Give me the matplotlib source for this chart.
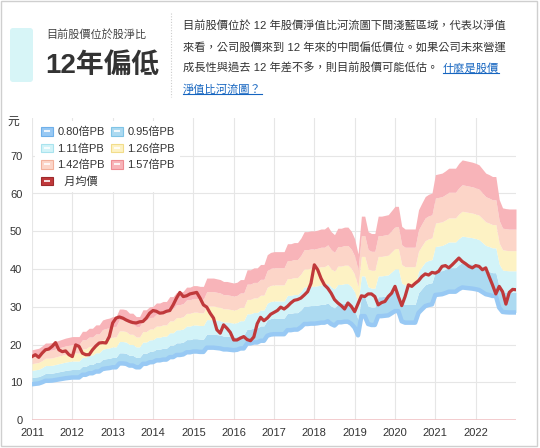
import numpy as np
import matplotlib.pyplot as plt
from matplotlib.patches import Patch, FancyBboxPatch, Rectangle
from matplotlib.lines import Line2D
from matplotlib.legend_handler import HandlerTuple

plt.rcParams['font.family'] = ['Liberation Sans', 'Noto Sans CJK TC', 'DejaVu Sans']

# ─── 資料：2011/01 ~ 2023/01 月資料 ───────────────────────────────────────────
months = 2011 + np.arange(145) / 12

price = [
    16.8, 17.3, 16.6, 17.7, 18.6, 18.8, 19.5, 20.5, 18.6, 18.1, 18.3, 17.3,
    16.8, 19.9, 19.5, 17.7, 17.3, 17.3, 18.6, 19.6, 20.4, 20.5, 20.4, 22.1,
    25.7, 27.0, 27.3, 27.0, 26.5, 26.1, 25.8, 25.7, 26.0, 26.1, 27.0, 28.3,
    29.0, 28.8, 28.3, 28.4, 28.8, 29.0, 30.5, 32.3, 33.8, 32.7, 32.9, 33.4,
    33.6, 33.8, 32.3, 30.5, 29.9, 28.3, 27.0, 23.9, 23.0, 25.2, 24.3, 23.2,
    21.2, 21.2, 21.7, 22.1, 21.3, 21.0, 22.0, 25.5, 27.2, 26.3, 27.0, 28.0,
    28.5, 29.0, 29.9, 29.4, 30.1, 31.0, 31.7, 31.9, 32.3, 33.1, 34.0, 36.2,
    41.1, 39.8, 37.5, 35.8, 34.9, 33.6, 31.9, 31.0, 30.3, 29.4, 31.0, 30.1,
    28.7, 30.8, 32.9, 32.7, 33.4, 33.4, 32.7, 30.5, 31.1, 31.4, 32.7, 33.6,
    35.4, 32.7, 30.3, 32.7, 35.8, 35.4, 36.2, 36.9, 38.0, 38.7, 38.4, 39.1,
    38.9, 39.4, 40.7, 40.9, 40.3, 41.1, 42.0, 42.9, 42.0, 41.4, 40.7, 40.3,
    40.9, 40.7, 39.8, 40.3, 38.0, 35.8, 33.4, 35.4, 34.0, 30.7, 33.8, 34.6,
    34.5,
]

# 1.57倍PB 對應股價（河流圖最上緣）
top_157 = [
    18.6, 18.8, 19.0, 19.6, 20.4, 20.4, 20.5, 20.8, 21.1, 21.4, 21.7, 21.9,
    22.1, 22.1, 22.1, 23.5, 23.5, 24.3, 24.3, 25.2, 25.2, 26.5, 26.8, 27.0,
    27.4, 27.4, 29.4, 29.4, 29.2, 28.3, 28.3, 27.4, 27.4, 29.2, 29.2, 30.0,
    30.1, 31.0, 31.0, 31.4, 31.4, 32.7, 32.7, 33.8, 33.8, 34.1, 35.2, 35.2,
    35.6, 35.6, 35.4, 35.4, 37.6, 37.6, 37.6, 37.4, 37.2, 36.7, 36.7, 36.5,
    36.3, 36.5, 37.2, 37.2, 39.8, 39.8, 40.3, 40.3, 41.2, 41.2, 43.8, 44.4,
    44.6, 44.6, 44.6, 44.6, 46.7, 46.7, 47.0, 47.0, 48.2, 49.9, 49.9, 50.1,
    50.1, 50.3, 50.6, 50.6, 51.3, 49.9, 49.1, 50.8, 50.8, 51.1, 51.1, 50.0,
    48.0, 44.0, 54.0, 54.0, 49.9, 49.4, 49.4, 54.0, 54.0, 54.2, 54.4, 55.5,
    56.6, 56.6, 51.3, 50.6, 50.6, 50.6, 50.6, 55.7, 57.5, 59.2, 59.8, 60.1,
    65.0, 65.2, 65.4, 66.0, 66.7, 66.7, 66.7, 68.0, 68.9, 68.7, 68.5, 68.3,
    68.0, 67.6, 66.5, 65.4, 65.0, 64.5, 64.5, 58.4, 56.2, 56.0, 55.9, 55.9,
    55.9,
]

pb_mult = [0.80, 0.95, 1.11, 1.26, 1.42, 1.57]
pb_labels = ['0.80倍PB', '0.95倍PB', '1.11倍PB', '1.26倍PB', '1.42倍PB', '1.57倍PB']
band_colors = ['#98c9f4', '#acdaf1', '#d2f3f8', '#fdf2c4', '#fcd5c8', '#f8b4b9']
edge_colors = ['#6fb0ea', '#7fc4e6', '#a9e3ee', '#f2dd8a', '#f2b19c', '#ee8c93']
price_color = '#c0393b'

years = list(range(2011, 2023))
yticks = [0, 10, 20, 30, 40, 50, 60, 70]

bps = np.array(top_157) / 1.57
levels = [bps * m for m in pb_mult]

# ─── 圖 ───────────────────────────────────────────────────────────────────────
W, H = 540, 448
fig = plt.figure(figsize=(W / 100, H / 100), dpi=100)
T = fig.dpi_scale_trans

def px(x, y):
    return x / 100, (H - y) / 100

# 外框
fig.patches.append(Rectangle(px(1, 446), 536 / 100, 445 / 100, transform=T,
                             fill=False, ec='#cfcfcf', lw=1))

# 上方說明區
fig.patches.append(FancyBboxPatch(px(10, 82), 23 / 100, 54 / 100, transform=T,
                                  boxstyle='round,pad=0,rounding_size=0.03',
                                  fc='#d7f5f7', ec='none'))
fig.text(*px(46, 34), '目前股價位於股淨比', transform=T, fontsize=8,
         color='#444444', va='center', ha='left')
fig.text(*px(45, 66), '12年偏低', transform=T, fontsize=20, fontweight='bold',
         color='#333333', va='center', ha='left')
fig.add_artist(Line2D([171 / 100, 171 / 100], [(H - 13) / 100, (H - 97) / 100],
                      transform=T, color='#cccccc', lw=0.8, ls=(0, (1, 1.5))))

para = [
    '目前股價位於 12 年股價淨值比河流圖下間淺藍區域，代表以淨值',
    '來看，公司股價來到 12 年來的中間偏低價位。如果公司未來營運',
    '成長性與過去 12 年差不多，則目前股價可能低估。',
]
line_y = [25, 47, 68, 89]
for s, yy in zip(para, line_y):
    fig.text(*px(183, yy), s, transform=T, fontsize=8.1, color='#333333',
             va='center', ha='left')

link_color = '#1565c0'
link1 = fig.text(*px(443, 68), '什麼是股價', transform=T, fontsize=8.1,
                 color=link_color, va='center', ha='left')
link2 = fig.text(*px(183, 89), '淨值比河流圖？', transform=T, fontsize=8.1,
                 color=link_color, va='center', ha='left')

# 主圖
ax = fig.add_axes([32 / W, 28 / H, 484 / W, 302 / H])

for k in range(1, 6):
    ax.fill_between(months, levels[k - 1], levels[k], color=band_colors[k],
                    lw=0, zorder=2)
ax.plot(months, levels[0], color=band_colors[0], lw=3.2, zorder=2.5)
ax.plot(months, price, color=price_color, lw=2.3, zorder=4,
        solid_joinstyle='round')
ax.axhline(0, color='#f2c4c6', lw=1.2, zorder=3)

ax.set_xlim(2011, 2023)
ax.set_ylim(0, 80)
ax.set_xticks(years)
ax.set_yticks(yticks)
ax.grid(color='#e6e6e6', lw=0.8)
ax.set_axisbelow(True)
for sp in ax.spines.values():
    sp.set_visible(False)
ax.tick_params(length=0, labelsize=8, colors='#333333')
ax.tick_params(axis='y', pad=7)
ax.tick_params(axis='x', pad=6)
fig.text(*px(13, 122), '元', transform=T, fontsize=8.5, color='#333333',
         va='center', ha='center')

# 圖例
def swatch(fc, ec):
    return (Patch(fc=fc, ec=ec, lw=0.8),
            Line2D([], [], marker='_', color='white', markersize=4,
                   markeredgewidth=1.2, linestyle='None'))

hs = [swatch(c, e) for c, e in zip(band_colors, edge_colors)]
hp = swatch(price_color, '#9e2a2c')
order = [0, 2, 4, None, 1, 3, 5]
handles = [hs[i] if i is not None else hp for i in order]
labels = [pb_labels[i] if i is not None else '  月均價' for i in order]
leg = ax.legend(handles, labels, handler_map={tuple: HandlerTuple(ndivide=1)},
                ncol=2, loc='upper left', bbox_to_anchor=(0.0, 1.0),
                frameon=True, facecolor='white', edgecolor='none',
                framealpha=1, fontsize=8, handlelength=1.1, handleheight=0.8,
                columnspacing=0.5, handletextpad=0.4, labelspacing=0.55,
                borderaxespad=0.3, borderpad=0.5)
for t in leg.get_texts():
    t.set_color('#333333')
leg.set_zorder(5)

# 連結底線
fig.canvas.draw()
r = fig.canvas.get_renderer()
inv = T.inverted()
for t in (link1, link2):
    bb = t.get_window_extent(r).transformed(inv)
    fig.add_artist(Line2D([bb.x0, bb.x1], [bb.y0 + 0.005, bb.y0 + 0.005],
                          transform=T, color=link_color, lw=0.8))

fig.savefig('out.png', dpi=100)
